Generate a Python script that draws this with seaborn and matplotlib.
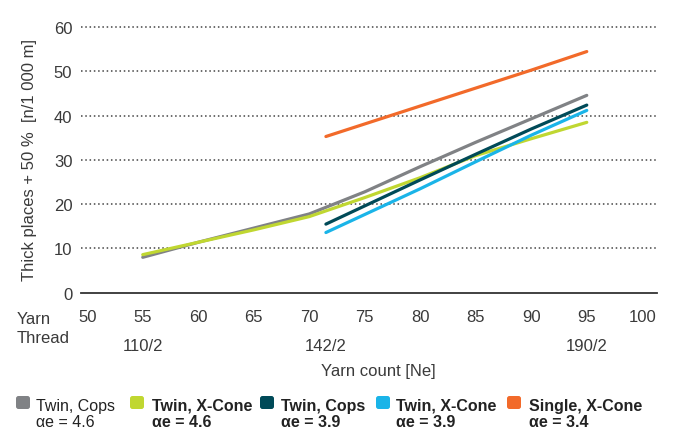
import matplotlib
matplotlib.use("Agg")
import matplotlib.pyplot as plt
import matplotlib.transforms as mtransforms
from matplotlib.patches import FancyBboxPatch
import pandas as pd
import seaborn as sns

# data
x_gray = [55, 60, 65, 70, 72, 75, 80, 85, 90, 95]
y_gray = [8.0, 11.4, 14.6, 17.8, 19.8, 22.8, 28.5, 34.0, 39.3, 44.6]

x_yellow = [55, 60, 65, 70, 75, 80, 85, 90, 95]
y_yellow = [8.6, 11.4, 14.2, 17.2, 21.5, 26.0, 31.0, 34.8, 38.5]

x_teal = [71.5, 80, 85, 90, 95]
y_teal = [15.5, 25.5, 31.3, 37.0, 42.4]

x_cyan = [71.5, 80, 85, 90, 95]
y_cyan = [13.6, 23.5, 29.6, 35.6, 41.2]

x_orange = [71.5, 80, 90, 95]
y_orange = [35.3, 42.2, 50.3, 54.5]

series_names = ["Twin, Cops 4.6", "Twin, X-Cone 4.6", "Twin, Cops 3.9",
                "Twin, X-Cone 3.9", "Single, X-Cone 3.4"]
legend_line1 = ["Twin, Cops", "Twin, X-Cone", "Twin, Cops", "Twin, X-Cone", "Single, X-Cone"]
legend_line2 = ["αe = 4.6", "αe = 4.6", "αe = 3.9", "αe = 3.9", "αe = 3.4"]
colors = ["#808285", "#c0d731", "#004a58", "#1ab4e8", "#f26a2a"]

thread_pos = [55, 71.5, 95]
thread_labels = ["110/2", "142/2", "190/2"]

xs = [x_gray, x_yellow, x_teal, x_cyan, x_orange]
ys = [y_gray, y_yellow, y_teal, y_cyan, y_orange]
df = pd.concat([pd.DataFrame({"x": x, "y": y, "series": n})
                for x, y, n in zip(xs, ys, series_names)], ignore_index=True)

sns.set_theme(style="white")
plt.rcParams["font.family"] = ["Liberation Sans", "DejaVu Sans"]
txt = "#3a3a3a"

W, H = 678, 431
fig = plt.figure(figsize=(W / 100, H / 100), dpi=100)
ax = fig.add_axes([80.7 / W, 1 - 293.7 / H, 576 / W, 269.9 / H])

sns.lineplot(data=df, x="x", y="y", hue="series", palette=dict(zip(series_names, colors)),
             linewidth=2.3, legend=False, ax=ax, estimator=None, sort=False)

ax.set_xlim(49.41, 101.3)
ax.set_ylim(0, 61)
ax.set_xticks(range(50, 101, 5))
ax.set_yticks(range(0, 61, 10))
ax.tick_params(axis="both", length=0, labelsize=12, labelcolor=txt)
ax.tick_params(axis="x", pad=12)
ax.tick_params(axis="y", pad=6)
ax.set_xlabel("")
ax.set_ylabel("")
for s in ["top", "right", "left"]:
    ax.spines[s].set_visible(False)
ax.spines["bottom"].set_color("#333333")
ax.spines["bottom"].set_linewidth(1.3)
for v in range(10, 61, 10):
    ax.axhline(v, color="#444444", linewidth=1.1, linestyle=(0, (1, 1.8)), zorder=0)

# y label
fig.text(30 / W, 1 - 160 / H, "Thick places + 50 %  [n/1 000 m]", rotation=90,
         ha="center", va="center", fontsize=12, color=txt)

# x axis extra labels
fig.text(16.7 / W, 1 - 320 / H, "Yarn", ha="left", va="center", fontsize=12, color=txt)
fig.text(16.7 / W, 1 - 339 / H, "Thread", ha="left", va="center", fontsize=12, color=txt)
blend = mtransforms.blended_transform_factory(ax.transData, fig.transFigure)
for p, lab in zip(thread_pos, thread_labels):
    ax.text(p, 1 - 347 / H, lab, transform=blend, ha="center", va="center",
            fontsize=12, color=txt)
fig.text(378 / W, 1 - 372 / H, "Yarn count [Ne]", ha="center", va="center",
         fontsize=12, color=txt)

# legend, built by hand
sq_x = [16, 130, 260, 376, 507]
tx_x = [36, 151.7, 281, 396, 528.7]
weights = ["normal", "bold", "bold", "bold", "bold"]
for i in range(5):
    patch = FancyBboxPatch((sq_x[i], H - 410), 14, 13,
                           boxstyle="round,pad=0,rounding_size=2.5",
                           facecolor=colors[i], edgecolor="none",
                           transform=mtransforms.IdentityTransform())
    fig.add_artist(patch)
    fig.text(tx_x[i] / W, 1 - 411 / H, legend_line1[i], ha="left", va="baseline",
             fontsize=11.5, color="#222222", fontweight=weights[i])
    fig.text(tx_x[i] / W, 1 - 426.7 / H, legend_line2[i], ha="left", va="baseline",
             fontsize=11.5, color="#222222", fontweight=weights[i])

fig.savefig("out.png", dpi=100)
